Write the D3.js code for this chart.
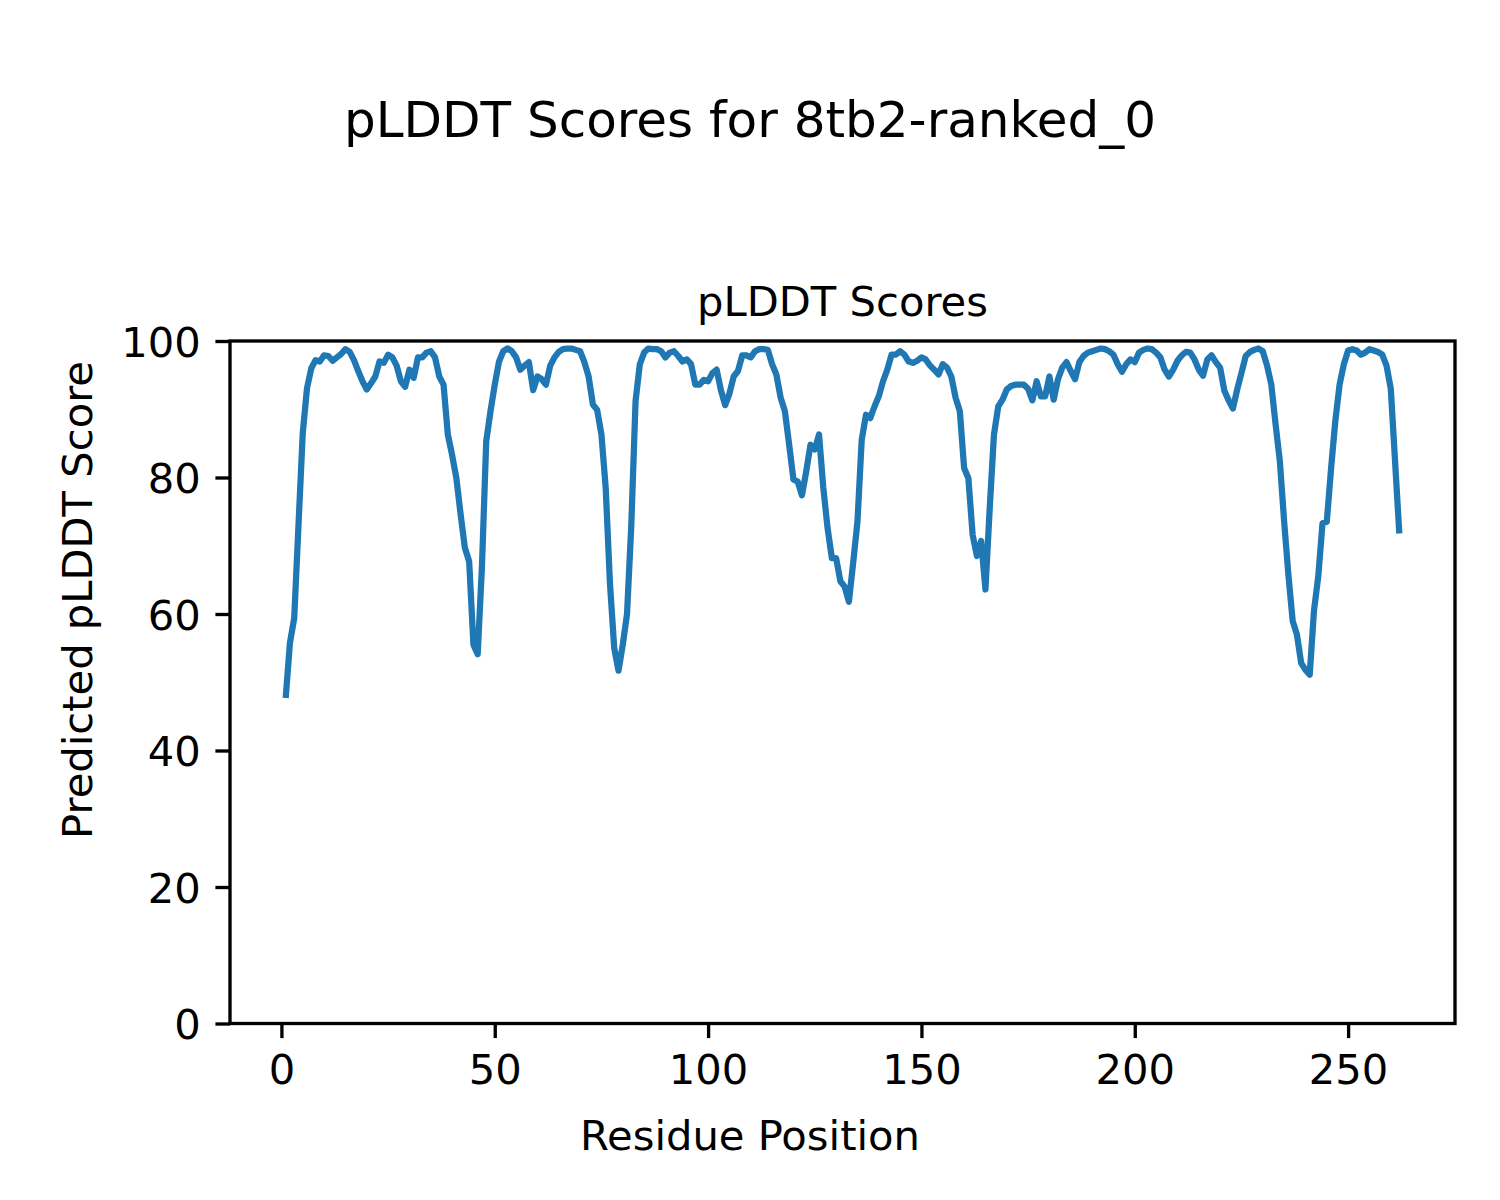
<!DOCTYPE html>
<html>
<head>
<meta charset="utf-8">
<script src="https://cdn.jsdelivr.net/npm/d3@7"></script>
<style>
  html, body { margin: 0; padding: 0; background: #fff; }
  svg { display: block; }
  text { font-family: "DejaVu Sans", sans-serif; fill: #000; }
</style>
</head>
<body>
<script>
const figTitle = "pLDDT Scores for 8tb2-ranked_0";
const axesTitle = "pLDDT Scores";
const xLabel = "Residue Position";
const yLabel = "Predicted pLDDT Score";
const xTicks = [0, 50, 100, 150, 200, 250];
const yTicks = [0, 20, 40, 60, 80, 100];

// pLDDT score per residue (residue 1..262)
const plddt = [
  47.7, 55.8, 59.4, 73.0, 86.5, 93.1, 96.0, 97.2, 97.0, 97.9,
  97.8, 97.1, 97.6, 98.1, 98.8, 98.4, 97.2, 95.6, 94.1, 92.9,
  93.8, 94.8, 97.0, 96.8, 98.0, 97.6, 96.4, 94.1, 93.3, 95.8,
  94.6, 97.6, 97.6, 98.3, 98.5, 97.6, 94.8, 93.6, 86.3, 83.3,
  79.9, 74.6, 69.7, 67.7, 55.5, 54.1, 67.0, 85.3, 89.7, 93.6,
  97.0, 98.5, 98.9, 98.5, 97.6, 95.8, 96.4, 96.9, 92.8, 94.8,
  94.4, 93.6, 96.4, 97.6, 98.4, 98.8, 98.9, 98.9, 98.7, 98.5,
  96.9, 94.8, 90.7, 89.9, 86.3, 78.5, 64.5, 55.0, 51.7, 55.5,
  60.0, 73.0, 91.2, 96.6, 98.3, 98.9, 98.8, 98.8, 98.5, 97.6,
  98.3, 98.5, 97.8, 97.0, 97.3, 96.6, 93.6, 93.6, 94.3, 94.1,
  95.3, 95.8, 92.8, 90.6, 92.3, 94.8, 95.6, 97.9, 97.9, 97.6,
  98.5, 98.8, 98.8, 98.7, 96.6, 95.1, 91.7, 89.7, 84.8, 79.7,
  79.4, 77.4, 80.9, 84.8, 84.1, 86.3, 78.5, 72.6, 68.2, 68.2,
  64.8, 64.0, 61.8, 67.5, 73.5, 85.5, 89.2, 88.7, 90.4, 91.9,
  94.1, 95.8, 98.0, 98.0, 98.5, 98.0, 97.0, 96.8, 97.1, 97.6,
  97.3, 96.4, 95.8, 95.1, 96.6, 96.1, 94.8, 91.7, 89.7, 81.4,
  79.9, 71.6, 68.5, 70.7, 63.6, 75.5, 86.3, 90.4, 91.4, 92.9,
  93.4, 93.6, 93.6, 93.6, 93.0, 91.3, 94.1, 91.9, 91.9, 94.8,
  91.4, 94.4, 96.1, 96.9, 95.6, 94.4, 96.9, 97.8, 98.3, 98.5,
  98.7, 98.9, 98.8, 98.5, 98.0, 96.6, 95.5, 96.6, 97.3, 96.9,
  98.3, 98.7, 98.9, 98.8, 98.3, 97.6, 95.8, 94.8, 95.8, 97.1,
  97.9, 98.4, 98.3, 97.3, 95.8, 94.9, 97.3, 97.9, 96.9, 96.1,
  92.7, 91.3, 90.1, 92.9, 95.3, 97.8, 98.4, 98.7, 98.9, 98.5,
  96.4, 93.6, 87.8, 82.4, 73.6, 65.8, 59.0, 57.0, 52.8, 51.8,
  51.1, 60.5, 65.5, 73.3, 73.5, 81.3, 88.3, 93.6, 96.6, 98.6,
  98.8, 98.6, 98.0, 98.3, 98.8, 98.6, 98.4, 98.0, 96.4, 93.0,
  82.4, 71.8
];

const W = 1500, H = 1200;
const mLeft = 230, mRight = 1455, mTop = 341, mBottom = 1023.5;
const fs = 41.67;
const tickLen = 14.6, tickPad = 14.6;

const svg = d3.select("body").append("svg").attr("width", W).attr("height", H);
svg.append("rect").attr("width", W).attr("height", H).attr("fill", "#fff");

const n = plddt.length;
const span = n - 1;
const x = d3.scaleLinear().domain([1 - 0.05 * span, n + 0.05 * span]).range([mLeft, mRight]);
const y = d3.scaleLinear().domain([0, 100]).range([mBottom, mTop]);

// line
const line = d3.line().x((d, i) => x(i + 1)).y(d => y(d));
svg.append("path").datum(plddt)
  .attr("d", line)
  .attr("fill", "none")
  .attr("stroke", "#1f77b4")
  .attr("stroke-width", 6.25)
  .attr("stroke-linejoin", "round")
  .attr("stroke-linecap", "butt");

// x axis
const xAxis = d3.axisBottom(x).tickValues(xTicks).tickSize(tickLen).tickPadding(tickPad).tickSizeOuter(0);
const gx = svg.append("g").attr("transform", `translate(0,${mBottom})`).call(xAxis);
gx.select(".domain").remove();
gx.selectAll(".tick line").attr("stroke", "#000").attr("stroke-width", 3.33);
gx.selectAll(".tick text").attr("font-size", fs).attr("font-family", "DejaVu Sans").attr("fill", "#000")
  .attr("dy", "0.76em").attr("y", tickLen + tickPad);

// y axis
const yAxis = d3.axisLeft(y).tickValues(yTicks).tickSize(tickLen).tickPadding(tickPad).tickSizeOuter(0);
const gy = svg.append("g").attr("transform", `translate(${mLeft},0)`).call(yAxis);
gy.select(".domain").remove();
gy.selectAll(".tick line").attr("stroke", "#000").attr("stroke-width", 3.33);
gy.selectAll(".tick text").attr("font-size", fs).attr("font-family", "DejaVu Sans").attr("fill", "#000")
  .attr("dy", "0.36em");

// spines
svg.append("rect")
  .attr("x", mLeft).attr("y", mTop)
  .attr("width", mRight - mLeft).attr("height", mBottom - mTop)
  .attr("fill", "none").attr("stroke", "#000").attr("stroke-width", 3.33)
  .attr("stroke-linejoin", "miter");

// titles
svg.append("text").attr("x", 750).attr("y", 137)
  .attr("text-anchor", "middle").attr("font-size", 50).text(figTitle);
svg.append("text").attr("x", (mLeft + mRight) / 2).attr("y", 316)
  .attr("text-anchor", "middle").attr("font-size", fs).text(axesTitle);
svg.append("text").attr("x", 750).attr("y", 1150)
  .attr("text-anchor", "middle").attr("font-size", fs).text(xLabel);
svg.append("text").attr("transform", "translate(92,600) rotate(-90)")
  .attr("text-anchor", "middle").attr("font-size", fs).text(yLabel);
</script>
</body>
</html>
